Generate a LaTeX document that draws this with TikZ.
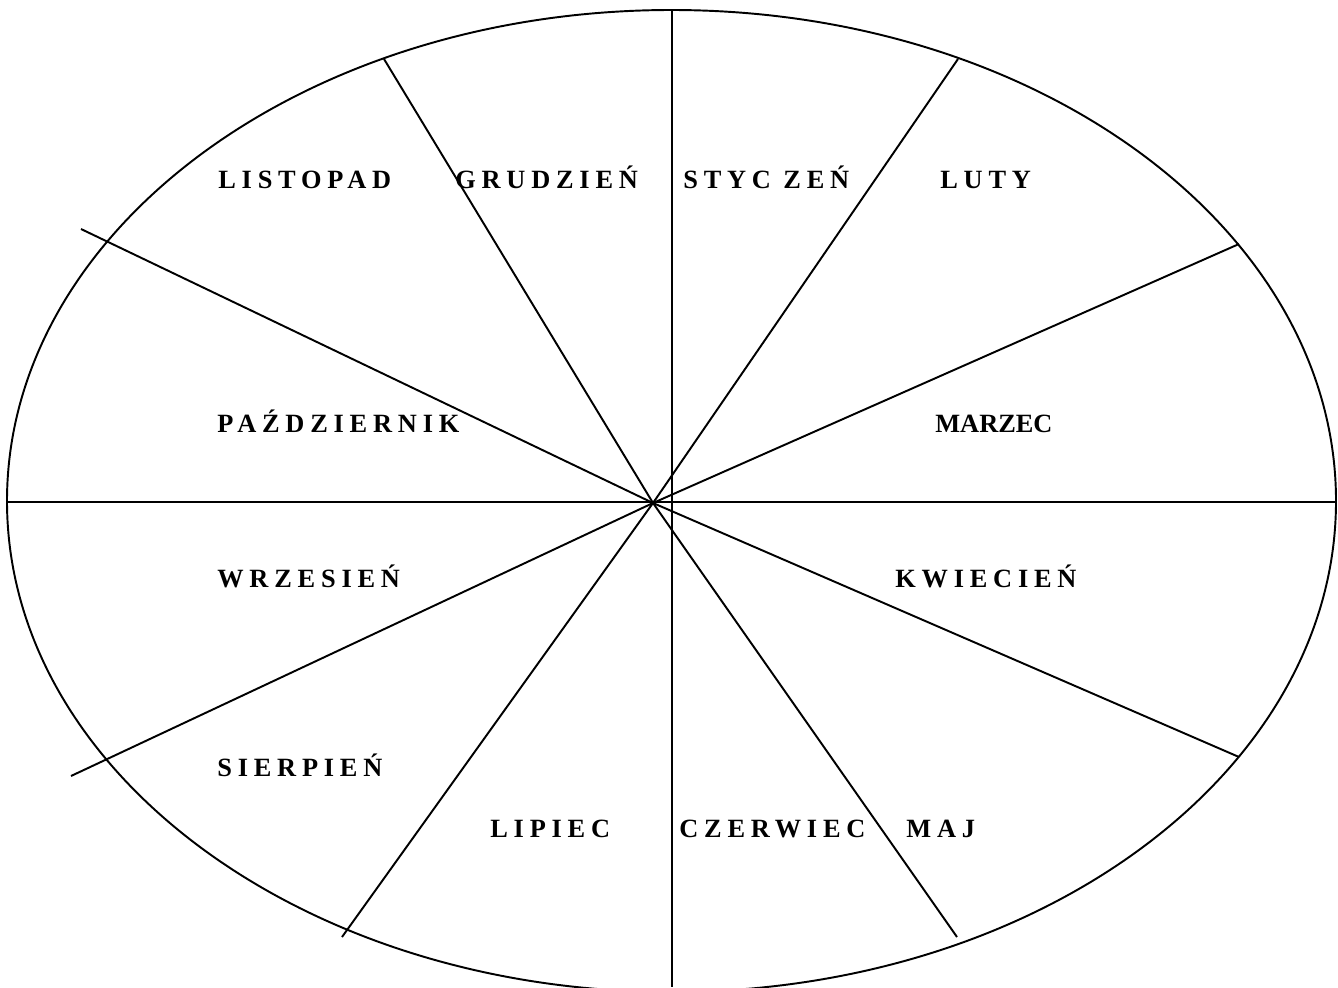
\documentclass[tikz,border=0pt]{standalone}
\usepackage{fontspec}
\setmainfont{Liberation Serif}
\newfontfamily\monthfont[LetterSpace=22]{Liberation Serif}
\usetikzlibrary{calc}

\begin{document}
\begin{tikzpicture}[
    x=0.02cm, y=-0.02cm,
    month/.style={anchor=base west, inner sep=0pt, font=\fontsize{15}{18}\selectfont\monthfont\bfseries},
    plainmonth/.style={month, font=\fontsize{15}{18}\selectfont\bfseries},
    divider/.style={line width=1.1pt, black}
  ]
    \useasboundingbox (0,0) rectangle (1338,987);
    \clip (0,0) rectangle (1338,987);

    % wheel outline
    \draw[divider] (671.5,501) ellipse [x radius=664.5, y radius=491];

    \coordinate (hub) at (653,503);
    \coordinate (vtop) at (672,10);
    \coordinate (vbot) at (672,987);
    \coordinate (hleft) at (7,502);
    \coordinate (hright) at (1336,502);
    \coordinate (nwa) at (384,59);
    \coordinate (sea) at (957,937);
    \coordinate (nea) at (958,59);
    \coordinate (swa) at (342,937);
    \coordinate (neb) at (1239,244);
    \coordinate (swb) at (71,776);
    \coordinate (nwb) at (81,229);
    \coordinate (seb) at (1239,757);

    \draw[divider] (vtop) -- (vbot);
    \draw[divider] (hleft) -- (hright);
    \draw[divider] (nwa) -- (hub) -- (sea);
    \draw[divider] (nea) -- (hub) -- (swa);
    \draw[divider] (neb) -- (hub) -- (swb);
    \draw[divider] (nwb) -- (hub) -- (seb);

    % months
    \node[month] (listopad) at (218,188) {LISTOPAD};
    \node[month] (grudzien) at (455,188) {GRUDZIEŃ};
    \node[month] (styczen) at (683,188) {STYC ZEŃ};
    \node[month] (luty) at (940,188) {LUTY};
    \node[month] (pazdziernik) at (217,432) {PAŹDZIERNIK};
    \node[plainmonth] (marzec) at (935,432) {MARZEC};
    \node[month] (wrzesien) at (217,587) {WRZESIEŃ};
    \node[month] (kwiecien) at (895,587) {KWIECIEŃ};
    \node[month] (sierpien) at (217,776) {SIERPIEŃ};
    \node[month] (lipiec) at (490,837) {LIPIEC};
    \node[month] (czerwiec) at (679,837) {CZERWIEC};
    \node[month] (maj) at (906,837) {MAJ};
\end{tikzpicture}
\end{document}
